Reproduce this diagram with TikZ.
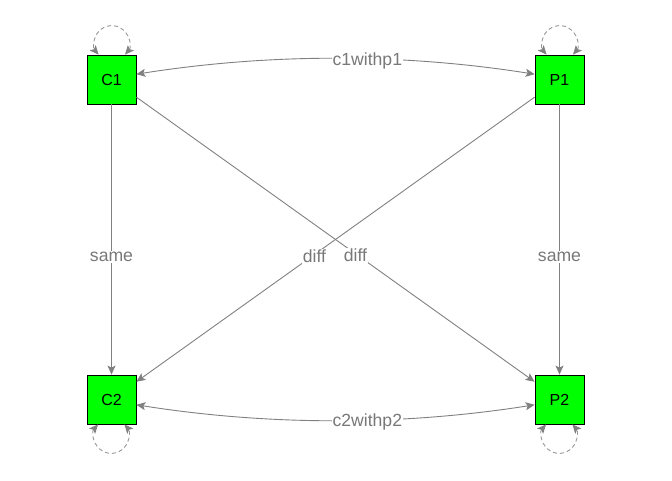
\documentclass[tikz,border=0pt]{standalone}
\usepackage{fontspec}
\setmainfont{Liberation Sans}
\usetikzlibrary{arrows.meta}
\definecolor{edgegray}{RGB}{128,128,128}
\definecolor{loopgray}{RGB}{150,150,150}
\definecolor{labelgray}{RGB}{120,120,120}
\definecolor{vgreen}{RGB}{0,255,0}
\begin{document}
\begin{tikzpicture}[x=1pt,y=1pt,
  vertex/.style={draw=black, line width=0.8pt, fill=vgreen, minimum size=49pt,
    inner sep=0pt, font=\fontsize{16}{18}\selectfont},
  edge/.style={draw=edgegray, line width=0.9pt, -{Stealth[length=9pt,width=8pt,inset=2pt]}},
  biedge/.style={draw=edgegray, line width=0.9pt,
    {Stealth[length=9pt,width=8pt,inset=2pt]}-{Stealth[length=9pt,width=8pt,inset=2pt]}},
  selfloop/.style={biedge, draw=loopgray, dash pattern=on 4pt off 3pt,
    {Stealth[length=9pt,width=8pt,inset=2pt,color=edgegray,fill=edgegray]}-{Stealth[length=9pt,width=8pt,inset=2pt,color=edgegray,fill=edgegray]}},
  elabel/.style={fill=white, text=labelgray, inner sep=1pt, yshift=-2pt,
    font=\fontsize{17.6}{20}\selectfont},
]
\useasboundingbox (0,0) rectangle (672,480);

% vertices
\node[vertex] (C1) at (111.5,400.5) {C1};
\node[vertex] (P1) at (559.5,400.5) {P1};
\node[vertex] (C2) at (111.5,80.5) {C2};
\node[vertex] (P2) at (559.5,80.5) {P2};

% straight edges
\draw[edge] (C1) -- node[elabel,pos=0.557] {same} (C2);
\draw[edge] (P1) -- node[elabel,pos=0.557] {same} (P2);
\draw[edge] (C1) -- node[elabel,pos=0.55] {diff} (P2);
\draw[edge] (P1) -- node[elabel,pos=0.553] {diff} (C2);

% curved two-way edges
\draw[biedge] (C1.12) .. controls +(133,21) and +(-133,21) ..
  node[elabel,pos=0.58] {c1withp1} (P1.168);
\draw[biedge] (C2.-12) .. controls +(133,-21) and +(-133,-21) ..
  node[elabel,pos=0.58] {c2withp2} (P2.192);

% self loops
\draw[selfloop] ([xshift=13.5pt]C1.north) arc[start angle=-41, end angle=221, radius=17.5];
\draw[selfloop] ([xshift=13.5pt]P1.north) arc[start angle=-41, end angle=221, radius=17.5];
\draw[selfloop] ([xshift=-13.5pt]C2.south) arc[start angle=139, end angle=401, radius=17.5];
\draw[selfloop] ([xshift=-13.5pt]P2.south) arc[start angle=139, end angle=401, radius=17.5];
\end{tikzpicture}
\end{document}
